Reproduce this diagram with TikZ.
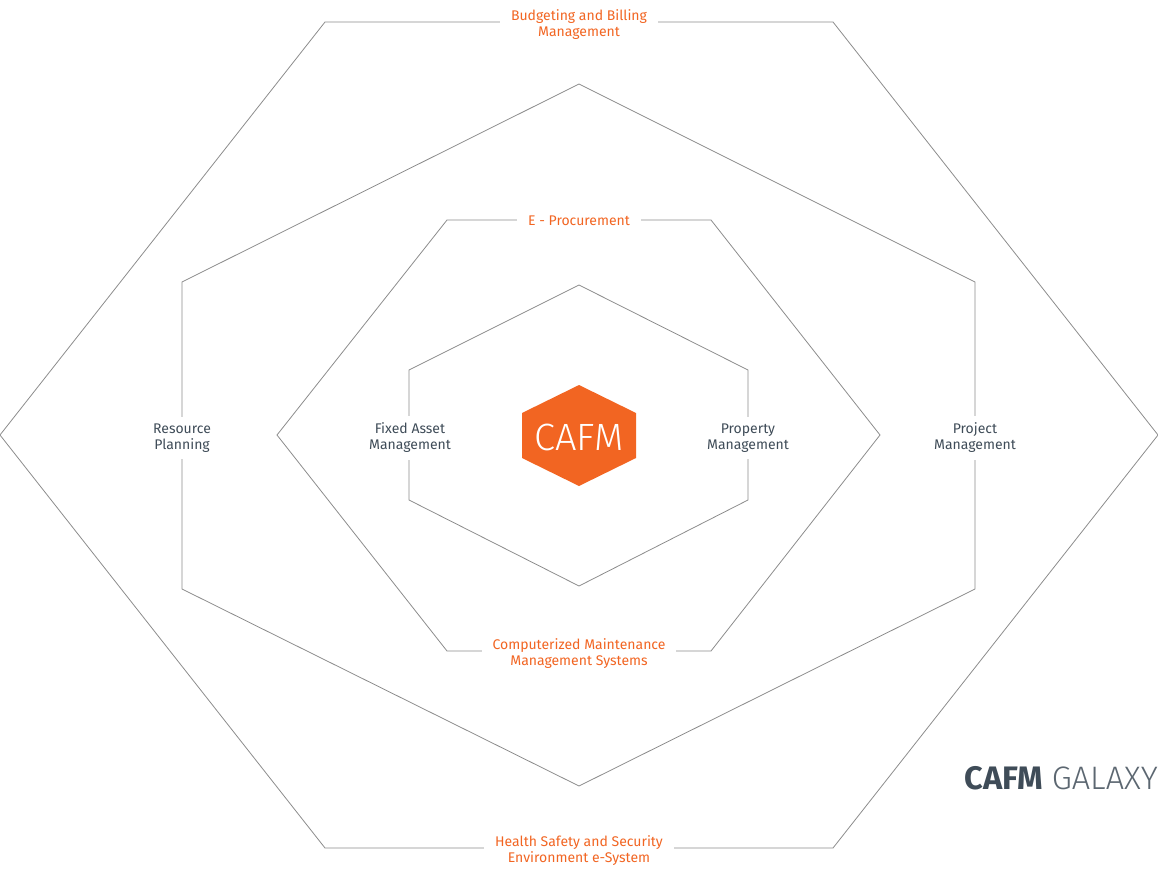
\documentclass[tikz,border=0pt]{standalone}
\usepackage{fontspec}
\setmainfont{Fira Sans}
\newfontfamily\firalight{Fira Sans Light}
\definecolor{cafmorange}{HTML}{F26522}
\definecolor{cafmdark}{HTML}{3F4C58}
\definecolor{cafmline}{HTML}{8C8C8C}
\begin{document}
\begin{tikzpicture}[x=1pt,y=-1pt,
  hexline/.style={draw=cafmline,line width=0.8pt,line join=miter},
  lbl/.style={fill=white,font=\fontsize{14}{16}\selectfont,align=center,inner xsep=11pt,inner ysep=7pt},
  orangelbl/.style={lbl,text=cafmorange},
  darklbl/.style={lbl,text=cafmdark}]
\useasboundingbox (0,0) rectangle (1158,872);
% outer hexagon (flat top)
\draw[hexline] (325,22) -- (833,22) -- (1158,435) -- (833,848) -- (325,848) -- (0,435) -- cycle;
% second hexagon (pointy top)
\draw[hexline] (579,84) -- (975,282) -- (975,589) -- (579,786) -- (182,589) -- (182,282) -- cycle;
% third hexagon (flat top)
\draw[hexline] (447,220) -- (711,220) -- (880,435) -- (711,651) -- (447,651) -- (277,435) -- cycle;
% fourth hexagon (pointy top)
\draw[hexline] (579,285) -- (748,370) -- (748,500) -- (579,586) -- (409,500) -- (409,370) -- cycle;
% centre
\fill[cafmorange] (579,385) -- (636,413) -- (636,458) -- (579,486) -- (522,458) -- (522,413) -- cycle;
\node[text=white,font=\firalight\fontsize{38}{40}\selectfont] (cafm) at (579,437) {CAFM};
% labels
\node[orangelbl] (budget) at (579,25) {Budgeting and Billing\\Management};
\node[orangelbl] (eproc) at (579,221) {E - Procurement};
\node[orangelbl] (cmms) at (579,654) {Computerized Maintenance\\Management Systems};
\node[orangelbl] (hse) at (579,851) {Health Safety and Security\\Environment e-System};
\node[darklbl] (resource) at (182,438) {Resource\\Planning};
\node[darklbl] (fixed) at (410,438) {Fixed Asset\\Management};
\node[darklbl] (property) at (748,438) {Property\\Management};
\node[darklbl] (project) at (975,438) {Project\\Management};
\node[anchor=east,inner sep=0pt,font=\fontsize{32.5}{34}\selectfont] (galaxy) at (1158,778) {\textcolor{cafmdark}{\bfseries CAFM} \textcolor{cafmdark!85}{\firalight GALAXY}};
\end{tikzpicture}
\end{document}
